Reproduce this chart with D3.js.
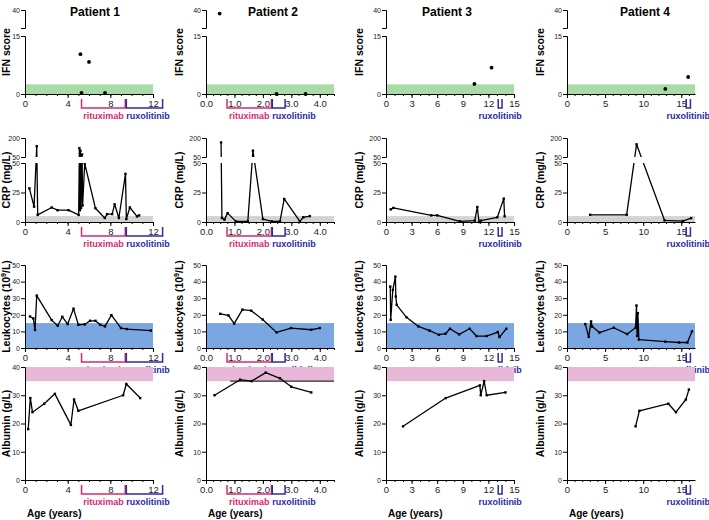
<!DOCTYPE html>
<html><head><meta charset="utf-8">
<script src="https://cdn.jsdelivr.net/npm/d3@7"></script>
<style>
body{margin:0;background:#fff}
svg{font-family:"Liberation Sans",Arial,sans-serif}
</style></head><body>
<svg width="709" height="520"></svg>
<script>
const patients = ["Patient 1", "Patient 2", "Patient 3", "Patient 4"];
const ageMax = [12, 4.5, 15, 16.8];
const ageTicks = [[0, 4, 8, 12], [0, 1, 2, 3, 4], [0, 3, 6, 9, 12, 15], [0, 5, 10, 15]];
const ageMinor = [1, 0.25, 1, 1];
const rituximab = [[5.3, 9.4], [0.74, 2.3], null, null];
const ruxolitinib = [[9.5, 12.9], [2.33, 2.78], [13.15, 13.6], [15.65, 16.2]];

// [age, value]
const ifn = [
  [[5.2, 10.3], [6.0, 8.3], [5.3, 0.3], [7.5, 0.3]],
  [[0.48, 38], [2.48, 0], [3.5, 0]],
  [[10.36, 2.6], [12.37, 6.8]],
  [[12.9, 1.3], [15.9, 4.4]]
];
const crp = [
  [[0.41, 28.5], [0.85, 13], [1.1, 135], [1.19, 6], [2.5, 12.3], [3.05, 10], [4.08, 10], [5.03, 6],
   [5.1, 120], [5.15, 10], [5.2, 100], [5.25, 12], [5.35, 70], [5.4, 14], [5.6, 49.5], [6.6, 11.7],
   [7.48, 3.4], [7.7, 6.7], [8.17, 6.7], [8.4, 15], [8.8, 3.4], [9.42, 40.8], [9.5, 2.5], [9.83, 12.3],
   [10.5, 4.7], [10.7, 5.6]],
  [[0.53, 165], [0.56, 3.4], [0.65, 2], [0.76, 7.5], [1.05, 0.5], [1.47, 0.5], [1.65, 100], [2.0, 2.5],
   [2.31, 0.5], [2.6, 0.5], [2.75, 19.5], [3.3, 0.5], [3.42, 4], [3.65, 5]],
  [[0.55, 10.7], [0.86, 11.9], [5.3, 5.6], [6.0, 5.6], [8.65, 0.6], [10.4, 1.1], [10.7, 12.7], [10.9, 0],
   [11.1, 1.1], [13.05, 4], [13.8, 19.8], [13.9, 4.8]],
  [[3.04, 6.1], [7.83, 6.1], [9.13, 150], [12.8, 1.4], [15.2, 0.8], [16.3, 3.3]]
];
const leukocytes = [
  [[0.47, 19], [0.78, 17.8], [0.94, 10.9], [1.1, 31.6], [2.5, 16.8], [3.07, 13.4], [3.5, 18.8], [4.0, 14.4],
   [4.55, 23.7], [5.0, 14], [5.6, 14.2], [6.1, 16.4], [6.6, 16.4], [7.05, 14], [7.5, 13], [8.1, 19.8],
   [9.0, 12], [9.56, 11.4], [11.8, 10.5]],
  [[0.5, 20.6], [0.79, 19.6], [0.99, 14.7], [1.28, 23.1], [1.59, 22.5], [1.99, 17.2], [2.48, 9.4],
   [2.99, 12], [3.7, 11], [4.0, 12]],
  [[0.5, 37], [0.55, 17], [0.8, 35], [1.1, 43], [1.15, 31], [1.25, 26], [2.4, 18.5], [3.8, 13], [5.1, 10.5],
   [6.2, 8], [6.97, 8.6], [7.5, 11.6], [8.57, 8.2], [9.8, 11.6], [10.6, 7.2], [11.8, 7.2], [13.1, 9.6],
   [13.3, 6.6], [14.1, 11.6]],
  [[2.4, 14.4], [2.85, 6.7], [3.16, 16], [3.3, 12.9], [4.25, 9.3], [6.14, 12.2], [7.9, 8.4], [9.0, 12.2],
   [9.12, 25.6], [9.2, 7.3], [9.3, 21], [9.43, 5.1], [12.9, 3.8], [14.7, 3.3], [15.8, 3.3], [16.4, 10]]
];
const albumin = [
  [[0.3, 18], [0.5, 29], [0.7, 24], [1.8, 27], [2.8, 30.5], [4.3, 19.5], [4.6, 28.5], [5.0, 24.5],
   [9.2, 30], [9.5, 34], [10.8, 29]],
  [[0.3, 30], [1.2, 35.5], [1.6, 35], [2.1, 38], [2.6, 36], [3.0, 33], [3.7, 31]],
  [[2, 19], [7, 29], [11, 33.5], [11.1, 30], [11.5, 35], [11.8, 30], [14, 31]],
  [[9, 19], [9.5, 24.5], [13.3, 27], [14.3, 24], [15.6, 28.5], [16, 32]]
];
const albuminRefLine = [null, [0.85, 4.5, 35], null, null];

const ifnNormal = [0, 2.5], crpNormal = [0, 5], leukNormal = [0, 15], albNormal = [35, 40];

// layout
const axX = [25, 206, 386, 567], axW = 128;
const titleX = [95, 273, 447, 645];
const yLabOff = [-15, -23, -23, -23];
const pink = "#d42a72", navy = "#2c2c9c";

const rows = [
  {label: "IFN score", data: ifn, normal: ifnNormal, fill: "#a9dca4", dots: true,
   segs: [{d: [0, 15], r: [94, 36], ticks: [0, 15]}, {d: [30, 40], r: [28, 10], ticks: [40]}]},
  {label: "CRP (mg/L)", data: crp, normal: crpNormal, fill: "#d3d3d3",
   segs: [{d: [0, 50], r: [222, 163], ticks: [0, 25, 50]}, {d: [50, 200], r: [157, 138], ticks: [50, 200]}]},
  {label: "Leukocytes", sup: true, data: leukocytes, normal: leukNormal, fill: "#7aa7e2",
   segs: [{d: [0, 50], r: [348, 265], ticks: [0, 10, 20, 30, 40, 50]}]},
  {label: "Albumin (g/L)", data: albumin, normal: albNormal, fill: "#e8b8d8", refLine: albuminRefLine,
   segs: [{d: [0, 40], r: [480, 367], ticks: [0, 10, 20, 30, 40]}]}
];

const svg = d3.select("svg");

patients.forEach((p, ci) => {
  svg.append("text").attr("x", titleX[ci]).attr("y", 16).attr("text-anchor", "middle")
    .attr("font-size", 12).attr("font-weight", "bold").text(p);
  svg.append("text").attr("x", axX[ci] + 2).attr("y", 517)
    .attr("font-size", 10).attr("font-weight", "bold").text("Age (years)");
});

rows.forEach((row, ri) => {
  patients.forEach((p, ci) => {
    const g = svg.append("g");
    const x = d3.scaleLinear().domain([0, ageMax[ci]]).range([axX[ci], axX[ci] + axW]);
    const segs = row.segs.map(s => Object.assign({}, s, {scale: d3.scaleLinear().domain(s.d).range(s.r)}));
    const y = v => {
      for (const s of segs) if (v <= s.d[1]) return s.scale(v);
      return segs[segs.length - 1].scale(v);
    };
    const base = segs[0].r[0];
    const top = segs[segs.length - 1].r[1];

    // normal range band
    g.append("rect").attr("x", x(0)).attr("width", x(ageMax[ci]) - x(0))
      .attr("y", y(row.normal[1])).attr("height", y(row.normal[0]) - y(row.normal[1]))
      .attr("fill", row.fill);
    if (row.refLine && row.refLine[ci]) {
      const rl = row.refLine[ci];
      g.append("line").attr("x1", x(rl[0])).attr("x2", x(rl[1])).attr("y1", y(rl[2])).attr("y2", y(rl[2]))
        .attr("stroke", "#000").attr("stroke-width", 1);
    }

    const pts = row.data[ci];
    if (row.dots) {
      g.selectAll("circle.d").data(pts).join("circle")
        .attr("cx", d => x(d[0])).attr("cy", d => y(d[1])).attr("r", 1.9).attr("fill", "#000");
    } else {
      const line = d3.line().x(d => x(d[0])).y(d => y(d[1]));
      segs.forEach((s, si) => {
        const id = `clip-${ri}-${ci}-${si}`;
        svg.append("clipPath").attr("id", id).append("rect")
          .attr("x", x(0) - 2).attr("width", axW + 10)
          .attr("y", s.r[1] - (si === segs.length - 1 ? 3 : 0)).attr("height", s.r[0] - s.r[1] + (si === 0 ? 3 : 0) + (si === segs.length - 1 ? 3 : 0));
        const cg = g.append("g").attr("clip-path", `url(#${id})`);
        cg.append("path").datum(pts).attr("d", line).attr("fill", "none")
          .attr("stroke", "#000").attr("stroke-width", 1.3).attr("stroke-linejoin", "round");
        cg.selectAll("rect").data(pts).join("rect")
          .attr("x", d => x(d[0]) - 1.2).attr("y", d => y(d[1]) - 1.2)
          .attr("width", 2.4).attr("height", 2.4).attr("fill", "#000");
      });
    }

    // y axis segments
    segs.forEach(s => {
      const ax = g.append("g").attr("transform", `translate(${x(0)},0)`)
        .call(d3.axisLeft(s.scale).tickValues(s.ticks).tickSize(4).tickSizeOuter(4).tickPadding(1));
      ax.selectAll("text").attr("font-size", 7).attr("fill", "#222").attr("font-family", "Liberation Sans, Arial");
      ax.selectAll("path,line").attr("stroke", "#000");
    });

    // x axis
    const xa = g.append("g").attr("transform", `translate(0,${base})`)
      .call(d3.axisBottom(x).tickValues(ageTicks[ci]).tickSize(4).tickSizeOuter(0).tickPadding(2));
    xa.selectAll("text").attr("font-size", 9.5).attr("fill", "#222").attr("font-family", "Liberation Sans, Arial");
    xa.selectAll("path,line").attr("stroke", "#000");
    const minor = d3.range(0, ageMax[ci] + 1e-6, ageMinor[ci]);
    g.append("g").attr("transform", `translate(0,${base})`)
      .call(d3.axisBottom(x).tickValues(minor).tickSize(2).tickFormat(""))
      .call(a => a.select(".domain").remove())
      .selectAll("line").attr("stroke", "#000");

    // y label
    const cy = (top + base) / 2, lx = x(0) + yLabOff[ci];
    const t = g.append("text").attr("transform", `translate(${lx},${cy}) rotate(-90)`)
      .attr("text-anchor", "middle").attr("font-size", 10.5).attr("font-weight", "bold");
    if (row.sup) {
      t.append("tspan").text("Leukocytes (10");
      t.append("tspan").attr("dy", -4).attr("font-size", 7).text("9");
      t.append("tspan").attr("dy", 4).text("/L)");
    } else t.text(row.label);

    // treatment brackets
    const bt = base + 5, bb = base + 14, lb = base + 25;
    const bracket = (r, color) => {
      g.append("path")
        .attr("d", `M${x(r[0])},${bt}V${bb}H${x(r[1])}V${bt}`)
        .attr("fill", "none").attr("stroke", color).attr("stroke-width", 1.5);
    };
    if (rituximab[ci]) {
      const r = rituximab[ci];
      bracket(r, pink);
      g.append("text").attr("x", (x(r[0]) + x(r[1])) / 2).attr("y", lb).attr("text-anchor", "middle")
        .attr("font-size", 9).attr("font-weight", "bold").attr("fill", pink).text("rituximab");
    }
    if (ruxolitinib[ci]) {
      const r = ruxolitinib[ci];
      bracket(r, navy);
      const start = !!rituximab[ci];
      g.append("text").attr("x", start ? x(r[0]) : (x(r[0]) + x(r[1])) / 2).attr("y", lb)
        .attr("text-anchor", start ? "start" : "middle")
        .attr("font-size", 9).attr("font-weight", "bold").attr("fill", navy).text("ruxolitinib");
    }
  });
});
</script>
</body></html>
